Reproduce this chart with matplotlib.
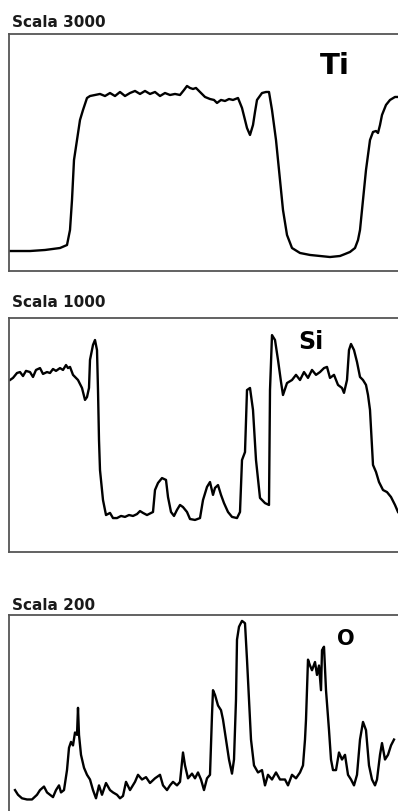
import matplotlib
matplotlib.use('Agg')
import matplotlib.pyplot as plt

# Ti profile (scala 3000)
ti_x = [1, 21, 36, 51, 58, 61, 63, 65, 68, 71, 74, 78, 81, 86, 91, 96, 101, 106, 111, 116,
        121, 126, 131, 136, 141, 146, 151, 156, 161, 166, 171, 175, 178, 181, 184, 187, 191,
        196, 201, 205, 208, 212, 216, 220, 224, 229, 233, 236, 238, 241, 244, 246, 248, 253,
        257, 260, 263, 267, 271, 274, 278, 283, 291, 301, 311, 321, 331, 336, 341, 346, 349,
        351, 354, 357, 361, 364, 367, 369, 371, 373, 377, 381, 386, 389]
ti_y = [253, 253, 266, 291, 329, 519, 899, 1405, 1658, 1912, 2038, 2190, 2215, 2228, 2241,
        2215, 2253, 2215, 2266, 2215, 2253, 2279, 2241, 2279, 2241, 2266, 2215, 2253, 2228,
        2241, 2228, 2291, 2342, 2317, 2304, 2317, 2266, 2203, 2177, 2165, 2127, 2165, 2152,
        2177, 2165, 2190, 2064, 1912, 1810, 1722, 1848, 2013, 2165, 2253, 2266, 2266, 2038,
        1658, 1152, 772, 456, 291, 228, 203, 190, 177, 190, 215, 241, 291, 392, 519, 899,
        1279, 1658, 1760, 1772, 1747, 1848, 1975, 2102, 2165, 2203, 2203]

# Si profile (scala 1000)
si_x = [1, 4, 8, 11, 14, 17, 21, 24, 27, 31, 34, 38, 41, 44, 47, 51, 54, 57, 59, 61, 64, 69,
        73, 76, 78, 80, 81, 84, 86, 88, 89, 90, 91, 94, 97, 101, 104, 108, 112, 116, 120, 124,
        128, 131, 134, 138, 144, 146, 149, 153, 157, 159, 162, 165, 168, 171, 174, 178, 181,
        186, 191, 194, 198, 201, 204, 206, 209, 212, 215, 219, 223, 228, 231, 233, 236, 238,
        241, 244, 247, 251, 256, 260, 261, 263, 266, 269, 272, 274, 278, 283, 287, 291, 295,
        299, 303, 307, 311, 315, 318, 321, 325, 329, 333, 335, 338, 340, 342, 345, 348, 351,
        354, 357, 359, 361, 364, 367, 370, 374, 378, 382, 386, 389]
si_y = [735, 744, 765, 769, 752, 774, 769, 748, 778, 786, 761, 769, 765, 782, 774, 786, 778,
        799, 786, 791, 757, 735, 701, 650, 662, 701, 821, 885, 906, 863, 692, 479, 350, 222,
        158, 167, 145, 145, 154, 150, 158, 154, 162, 175, 167, 158, 171, 265, 295, 316, 308,
        235, 171, 154, 180, 201, 192, 171, 141, 137, 145, 222, 278, 299, 244, 274, 286, 244,
        209, 171, 150, 145, 171, 393, 427, 692, 701, 607, 393, 231, 209, 201, 692, 927, 906,
        821, 727, 671, 722, 735, 757, 735, 769, 744, 778, 757, 769, 786, 791, 744, 757, 714,
        701, 680, 735, 863, 889, 863, 812, 748, 735, 714, 671, 607, 372, 342, 299, 265, 256,
        235, 201, 171]

# O profile (scala 200)
o_x = [6, 9, 13, 18, 23, 28, 31, 35, 38, 41, 44, 47, 50, 52, 55, 58, 60, 62, 64, 66, 68, 69,
       70, 72, 75, 78, 81, 84, 87, 90, 93, 97, 101, 104, 108, 111, 114, 117, 121, 126, 129,
       133, 137, 141, 146, 151, 154, 158, 161, 164, 168, 171, 174, 176, 179, 183, 186, 189,
       192, 195, 198, 201, 203, 204, 206, 209, 212, 214, 217, 220, 223, 225, 227, 228, 230,
       233, 236, 238, 240, 242, 245, 249, 253, 256, 259, 263, 267, 271, 276, 279, 283, 287,
       291, 294, 296, 297, 299, 301, 303, 306, 308, 310, 312, 313, 315, 317, 320, 322, 324,
       327, 330, 333, 336, 339, 342, 345, 348, 351, 354, 357, 360, 363, 366, 368, 371, 373,
       376, 379, 382, 385]
o_y = [51, 47, 44, 43, 43, 47, 51, 54, 49, 47, 45, 51, 55, 49, 51, 68, 87, 92, 89, 100, 98,
       121, 98, 81, 70, 64, 60, 51, 44, 55, 47, 57, 51, 49, 47, 44, 46, 58, 51, 58, 64, 60,
       62, 57, 61, 64, 55, 51, 55, 58, 55, 58, 83, 72, 61, 65, 61, 66, 60, 51, 61, 64, 115,
       136, 132, 123, 119, 111, 94, 77, 65, 77, 128, 179, 190, 195, 193, 162, 128, 94, 72,
       66, 68, 55, 64, 60, 66, 60, 60, 55, 64, 61, 66, 72, 94, 111, 162, 157, 153, 160, 149,
       157, 136, 170, 173, 136, 102, 77, 68, 68, 83, 77, 81, 64, 60, 55, 64, 94, 109, 102,
       72, 60, 55, 60, 81, 91, 77, 81, 89, 94]

panels = [
    ('Scala 3000', 'Ti', ti_x, ti_y, 3000),
    ('Scala 1000', 'Si', si_x, si_y, 1000),
    ('Scala 200', 'O', o_x, o_y, 200),
]

W, H = 398, 811
fig = plt.figure(figsize=(W / 100, H / 100), dpi=100)

# pixel boxes (left, top, bottom) and label placement
boxes = [(9, 34, 271), (9, 318, 552), (9, 615, 850)]
title_base = [27, 307, 610]
lab_pos = [(0.838, 0.865, 21), (0.776, 0.897, 17), (0.867, 0.898, 15)]

for i, (title, lab, xs, ys, scale) in enumerate(panels):
    left, top, bottom = boxes[i]
    ax = fig.add_axes([left / W, 1 - bottom / H, (W - left) / W, (bottom - top) / H])
    ax.plot(xs, ys, color='black', lw=1.7)
    ax.set_xlim(0, W - left)
    ax.set_ylim(0, scale)
    ax.set_xticks([])
    ax.set_yticks([])
    for s in ax.spines.values():
        s.set_color('#555555')
        s.set_linewidth(1.3)
    ax.spines['right'].set_visible(False)
    if i == 2:
        ax.spines['bottom'].set_visible(False)
    lx, ly, fs = lab_pos[i]
    ax.text(lx, ly, lab, transform=ax.transAxes, ha='center', va='center',
            fontsize=fs, fontweight='bold', color='black')
    fig.text(12 / W, 1 - title_base[i] / H, title, ha='left', va='baseline',
             fontsize=11, fontweight='bold', color='#1a1a1a')

fig.savefig('out.png', dpi=100)
